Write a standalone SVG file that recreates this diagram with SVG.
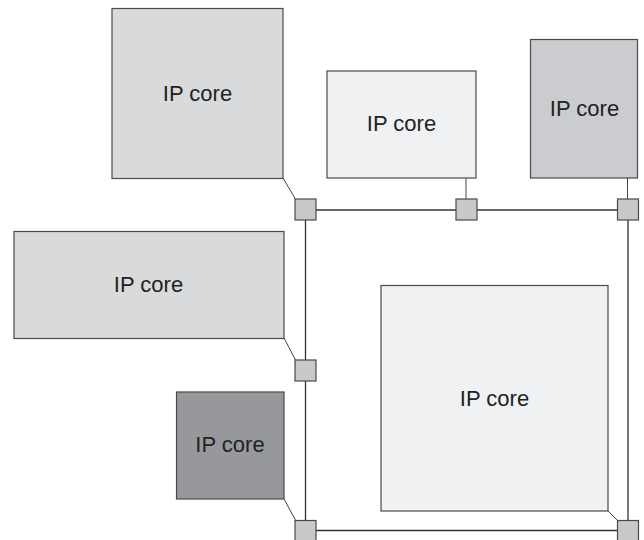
<svg xmlns="http://www.w3.org/2000/svg" width="644" height="540" viewBox="0 0 644 540">
  <style>
    .core rect { stroke: #4a4a4a; stroke-width: 1.2; }
    .core text { font-family: "Liberation Sans", Arial, sans-serif; font-size: 22px; fill: #222; text-anchor: middle; }
    .router { fill: #c8c9cb; stroke: #4a4a4a; stroke-width: 1.2; }
    .link { stroke: #333; stroke-width: 1.3; fill: none; }
    .tap { stroke: #444; stroke-width: 1; fill: none; }
  </style>
  <rect width="644" height="540" fill="#ffffff"/>

  <!-- links between routers and from cores to routers -->
  <g id="connectors">
    <line class="link" x1="316" y1="210" x2="456" y2="210"/>
    <line class="link" x1="477" y1="210" x2="617" y2="210"/>
    <line class="link" x1="305.5" y1="220" x2="305.5" y2="360"/>
    <line class="link" x1="305.5" y1="381" x2="305.5" y2="520"/>
    <line class="link" x1="628" y1="220" x2="628" y2="520"/>
    <line class="link" x1="316" y1="530.5" x2="617" y2="530.5"/>
    <line class="tap" x1="283" y1="178" x2="296" y2="200"/>
    <line class="tap" x1="466" y1="178" x2="466" y2="199"/>
    <line class="tap" x1="627.5" y1="178" x2="627.5" y2="199"/>
    <line class="tap" x1="284" y1="338" x2="296" y2="361"/>
    <line class="tap" x1="284" y1="499" x2="296" y2="521"/>
    <line class="tap" x1="608" y1="511" x2="618" y2="521"/>
  </g>

  <g id="core-a" class="core">
    <rect x="112" y="8.5" width="171" height="170" fill="#d9dadc"/>
    <text x="197.5" y="101">IP core</text>
  </g>
  <g id="core-b" class="core">
    <rect x="327" y="71" width="149" height="107" fill="#f0f1f3"/>
    <text x="401.5" y="131">IP core</text>
  </g>
  <g id="core-c" class="core">
    <rect x="530.5" y="39.5" width="107" height="138.5" fill="#cbcccf"/>
    <text x="584.5" y="116">IP core</text>
  </g>
  <g id="core-d" class="core">
    <rect x="14" y="231.5" width="270" height="107" fill="#d9dadc"/>
    <text x="148.5" y="292">IP core</text>
  </g>
  <g id="core-e" class="core">
    <rect x="176.5" y="392" width="107.5" height="107" fill="#97989b"/>
    <text x="230" y="452">IP core</text>
  </g>
  <g id="core-f" class="core">
    <rect x="381" y="285.5" width="227" height="225.5" fill="#f0f1f3"/>
    <text x="494.5" y="406">IP core</text>
  </g>

  <g id="router-1"><rect class="router" x="295" y="199" width="21" height="21"/></g>
  <g id="router-2"><rect class="router" x="456" y="199" width="21" height="21"/></g>
  <g id="router-3"><rect class="router" x="617.5" y="199" width="21" height="21"/></g>
  <g id="router-4"><rect class="router" x="295" y="360" width="21" height="21"/></g>
  <g id="router-5"><rect class="router" x="295" y="520.5" width="21" height="21"/></g>
  <g id="router-6"><rect class="router" x="617.5" y="520.5" width="21" height="21"/></g>
</svg>
